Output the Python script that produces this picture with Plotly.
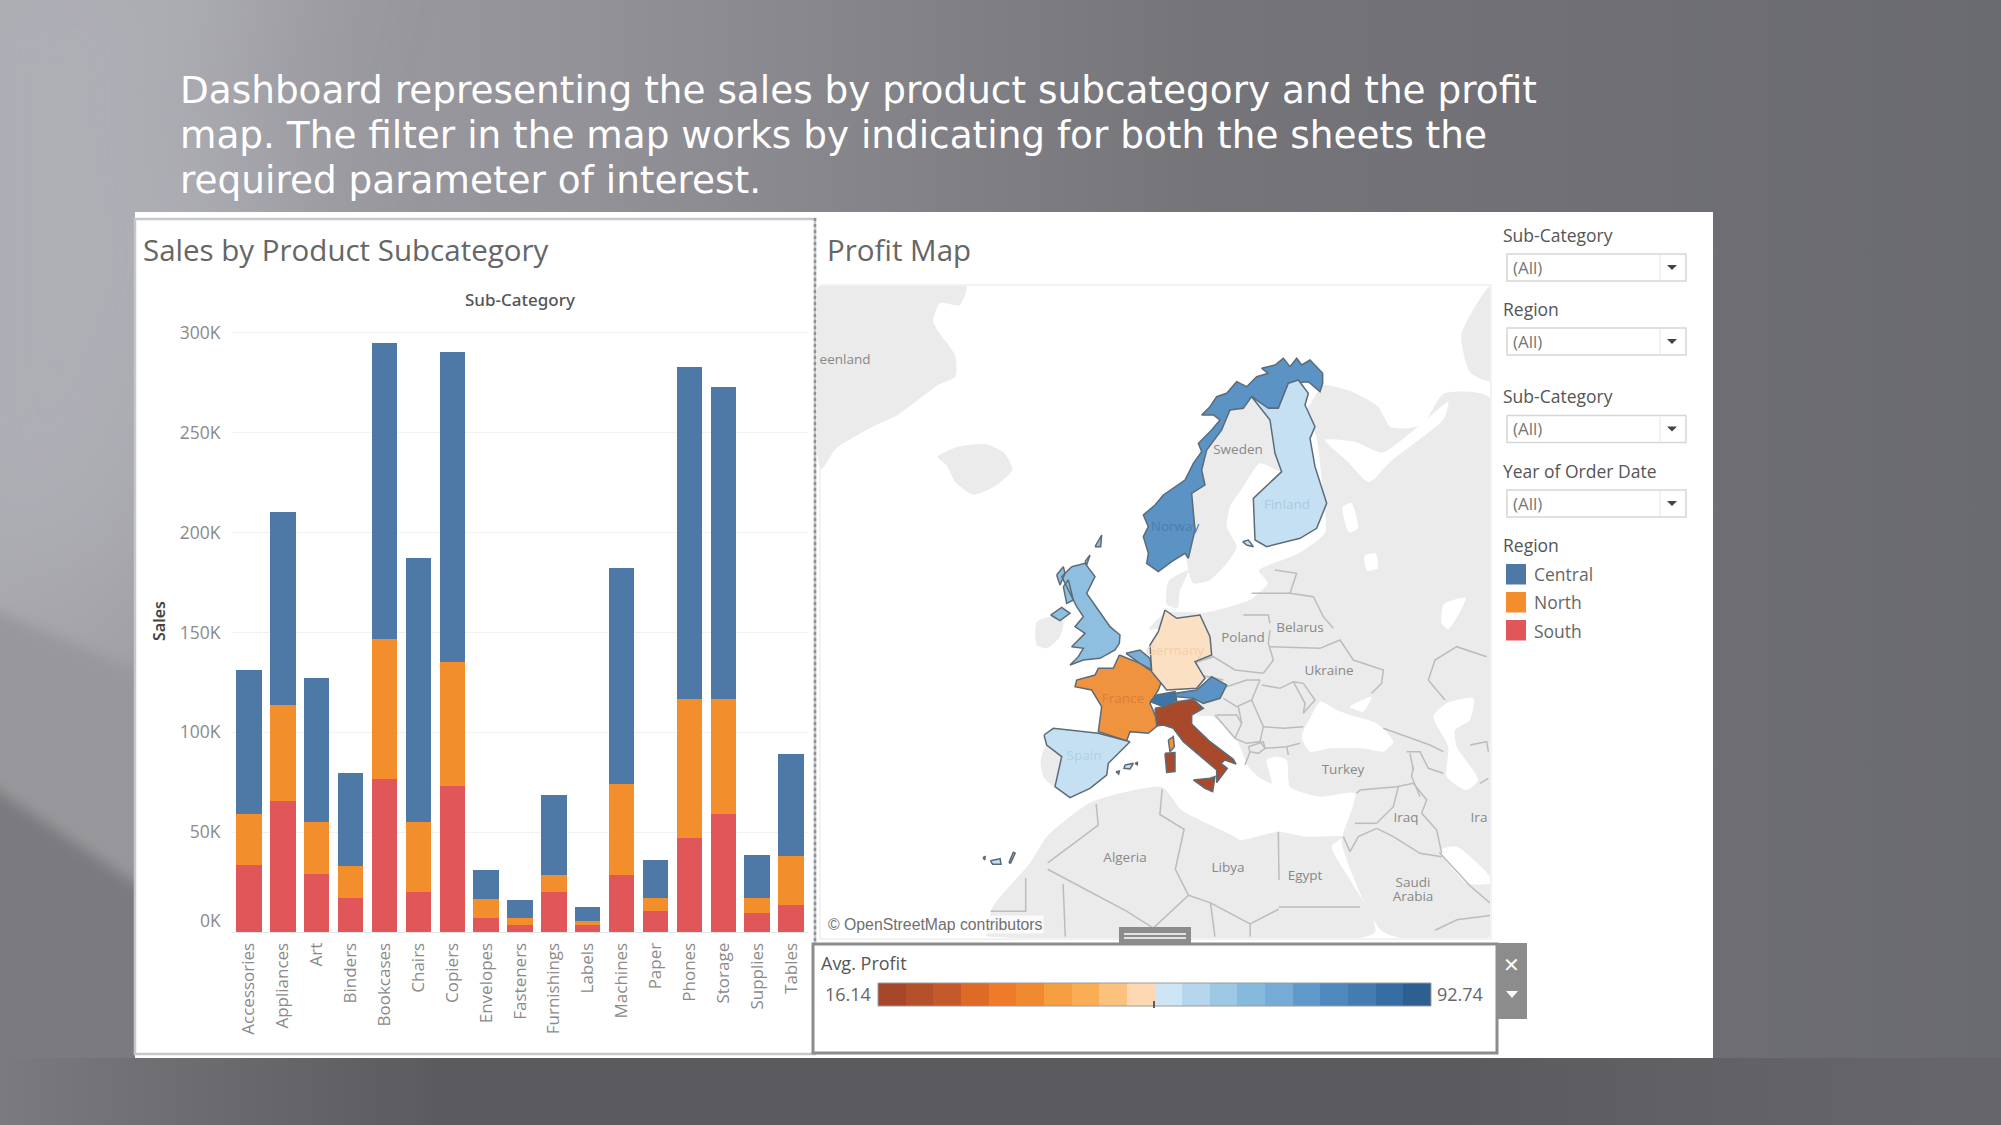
import base64
import plotly.graph_objects as go

W, H = 2001, 1125

# ---------- bar data ----------
categories = ["Accessories","Appliances","Art","Binders","Bookcases","Chairs","Copiers","Envelopes",
              "Fasteners","Furnishings","Labels","Machines","Paper","Phones","Storage","Supplies","Tables"]
south   = [33800,65400,29100,17000,76600,20000,73000,6900,3300,20000,3300,28600,10700,47000,59300,9300,13500]
north   = [25500,48100,25800,16000,70100,34900,62200,9600,3600,8600,2200,45600,6300,69500,57200,7700,24400]
central = [72000,96700,72300,46400,148100,132500,155200,14500,9300,39800,7100,108200,19300,166700,156500,21500,51400]
y_ticks = [0,50000,100000,150000,200000,250000,300000]
y_tick_text = ["","50K","100K","150K","200K","250K","300K"]
region_names = ["Central","North","South"]
region_colors = ["#4e79a7","#f28e2b","#e15759"]

ramp_colors = ["#A6462A","#B4502B","#C45A2B","#DD6B26","#EE7A2A","#F0892F","#F59E42","#F9AD54","#FBC27E","#FDD8B2",
               "#CDE5F5","#B5D6EC","#9CC8E4","#85BADC","#75ABD5","#5F9ACB","#4E88BC","#447CB0","#366EA3","#2E5F91"]
ramp_min, ramp_max = "16.14", "92.74"

# ---------- map geometry: local grids, converted to map units below ----------
def A(p): return [(810+x/2.272, 280+y/2.376) for x, y in p]   # wide grid
def B(p): return [(1030+x/3, 340+y/3) for x, y in p]          # north grid
def C(p): return [(1020+x/3, 600+y/3) for x, y in p]          # south grid
def D(p): return [(1180+x/3, 620+y/3) for x, y in p]          # east grid

land = [
 A([(20,15),(355,15),(340,60),(295,55),(280,100),(330,180),(330,230),(290,250),(200,320),(140,350),(60,400),(25,450)]),
 A([(290,420),(340,395),(400,390),(440,410),(460,450),(420,490),(370,510),(330,480),(310,440)]),
 C([(50,65),(95,50),(130,60),(120,110),(80,145),(50,135)]),
 B([(530,330),(575,270),(600,210),(640,205),(665,170),(720,240),(735,340),(755,395),(690,370),(640,440),(600,500),(590,560),(620,620),(590,670),(540,720),(490,730),(470,655),(495,570),(485,460),(525,435),(515,390)]),
 A([(810,770),(815,715),(860,690),(840,740),(835,780)]),
 A([(1480,130),(1545,15),(1545,240),(1500,220)]),
 A([(1165,250),(1230,265),(1290,300),(1320,350),(1390,345),(1440,270),(1545,280),(1545,1560)])
 + D([(610,936),(485,670),(490,640),(525,520),(420,530),(330,500),(320,420),(290,410),(260,420),(275,490),(235,470),(205,440),(170,360),(100,290),(50,285)])
 + A([(905,960),(800,830),(770,830),(810,790),(900,790),(1000,760),(1040,720),(1020,690),(1110,650),(1170,600),(1165,500),(1150,370),(1125,315),(1140,290)]),
 A([(400,1560),(415,1490),(500,1385),(540,1320),(640,1240),(800,1205),(845,1260),(960,1320)])
 + D([(180,660),(295,635),(380,650),(490,650),(455,680),(585,936)]) + A([(400,1560)]),
 C([(62,480),(80,435),(125,470),(105,560),(70,530)]),
]
water = [
 D([(365,350),(390,295),(420,245),(470,270),(510,285),(590,310),(640,365),(610,395),(550,385),(450,385),(390,395)]),
 D([(510,260),(560,235),(575,230),(550,275)]),
 D([(760,290),(800,250),(880,235),(870,300),(825,330),(830,380),(895,480),(860,510),(800,470),(805,380)]),
 D([(780,690),(830,680),(930,770),(930,790),(860,790)]),
 A([(1170,380),(1240,385),(1300,410),(1380,350),(1450,290),(1440,330),(1320,430),(1270,480),(1220,430)]),
 A([(1210,540),(1230,530),(1245,590),(1225,600)]),
 A([(1260,655),(1285,650),(1290,685),(1265,690)]),
 A([(1440,770),(1490,755),(1450,830),(1435,815)]),
]
borders = [
 B([(665,760),(780,760),(800,700),(735,690)]),
 B([(640,825),(715,825),(720,850)]),
 B([(780,760),(850,770),(880,830),(910,865)]),
 D([(270,80),(420,85),(480,60),(520,120),(610,150),(605,190),(575,220)]),
 D([(270,30),(265,70),(280,120),(250,160)]),
 D([(40,130),(100,110),(165,150),(250,160)]),
 D([(40,130),(60,165),(130,180)]),
 D([(140,200),(200,180),(240,180)]),
 D([(240,180),(215,240)]),
 D([(130,235),(170,260),(215,240)]),
 D([(245,195),(300,205),(340,185),(370,190),(405,240),(370,280)]),
 D([(340,185),(375,250),(370,280)]),
 D([(250,320),(310,325),(370,320)]),
 D([(215,240),(250,320),(240,365)]),
 D([(110,285),(170,285),(185,310),(165,355),(105,285)]),
 D([(175,260),(185,310)]),
 D([(165,355),(200,370),(240,365),(255,385)]),
 D([(205,380),(250,365),(255,385),(235,400),(210,395),(205,380)]),
 D([(255,385),(320,380),(360,370)]),
 D([(320,380),(325,405)]),
 D([(210,395),(195,435)]),
 D([(610,325),(680,350),(750,375),(790,395)]),
 D([(680,395),(720,395),(745,445),(790,460)]),
 D([(690,400),(700,450)]),
 D([(530,520),(540,510),(650,500),(700,490)]),
 D([(700,440),(695,470),(720,530)]),
 D([(700,490),(740,540),(725,580),(770,630),(785,700)]),
 D([(590,610),(640,560),(655,500)]),
 D([(590,625),(640,650),(720,700),(785,710)]),
 D([(590,625),(535,650),(510,695),(490,650)]),
 D([(525,610),(590,610)]),
 D([(745,180),(765,120),(830,80),(920,110)]),
 D([(745,180),(795,240)]),
 D([(870,375),(920,365),(925,395)]),
 D([(900,490),(925,475)]),
 D([(295,635),(297,780)]),
] + [A(p) for p in [
 [(650,1245),(655,1295),(540,1385)],
 [(800,1210),(795,1270),(850,1305),(830,1400),(860,1462)],
 [(860,1462),(910,1480),(1000,1530),(1065,1495)],
 [(1065,1490),(1250,1490)],
 [(540,1400),(720,1500),(780,1540),(860,1462)],
 [(490,1420),(490,1500),(410,1500)],
 [(575,1435),(580,1560)],
 [(910,1480),(920,1560)],
 [(1000,1530),(1000,1560)],
 [(1430,1360),(1500,1440),(1545,1480)],
 [(1420,1545),(1470,1520),(1545,1510)],
]]
countries = [
 ("#5B93C4",[B([(878,100),(840,60),(815,75),(800,55),(780,80),(760,55),(735,75),(695,85),(715,100),(680,110),(650,140),(620,125),(590,160),(560,170),(540,200),(515,225),(550,225),(570,240),(545,270),(505,310),(515,335),(490,370),(465,420),(400,465),(375,495),(340,525),(355,560),(340,590),(355,640),(350,670),(385,695),(425,665),(465,640),(475,655),(495,570),(485,460),(525,435),(515,390),(530,330),(575,270),(600,210),(640,205),(665,170),(710,205),(745,205),(775,130),(835,125),(870,155),(878,130)])]),
 ("#C5E0F2",[B([(665,170),(715,205),(745,205),(775,130),(805,120),(835,160),(825,195),(855,260),(840,295),(855,380),(890,490),(860,565),(810,595),(710,620),(675,600),(670,475),(755,395),(735,340),(720,240)]),
             B([(638,605),(655,600),(670,620),(650,615)])]),
 ("#8FBFE0",[C([(155,-100),(195,-110),(225,-70),(200,-20),(235,30),(270,80),(300,105),(298,130),(285,150),(240,175),(190,180),(150,195),(175,170),(190,145),(155,140),(195,100),(165,80),(190,50),(170,20),(150,-20),(135,-50),(125,-70)]),
             C([(92,45),(125,22),(150,40),(120,62)]),
             B([(195,620),(215,585),(212,620)]),
             B([(165,665),(180,645),(170,675)]),
             B([(80,705),(100,680),(105,700),(90,735)]),
             B([(100,740),(115,720),(130,780),(110,790)])]),
 ("#F0933F",[C([(298,165),(360,190),(390,210),(430,230),(415,270),(390,310),(405,345),(415,375),(385,400),(330,395),(320,422),(235,395),(245,320),(215,270),(165,260),(170,240),(225,225),(235,205),(280,205)]),
             C([(445,420),(460,410),(463,440),(450,455)])]),
 ("#7AAED6",[C([(318,160),(360,150),(390,175),(395,210),(360,190)])]),
 ("#FBE0C3",[C([(435,30),(470,55),(540,45),(570,110),(575,165),(525,185),(555,235),(530,265),(440,270),(395,215),(390,135),(415,95)])]),
 ("#5B93C6",[C([(465,280),(530,270),(575,230),(620,255),(600,295),(550,310),(520,295),(465,290)])]),
 ("#3D75A8",[C([(390,305),(410,285),(465,275),(470,300),(430,320)])]),
 ("#A8492B",[C([(405,325),(430,320),(470,305),(520,298),(550,325),(515,345),(515,372),(570,425),(640,478),(648,492),(615,480),(603,490),(622,505),(590,548),(590,510),(555,480),(490,425),(460,385),(430,375),(410,378)]),
             C([(520,540),(570,535),(585,530),(578,575),(555,565)]),
             C([(435,460),(465,458),(465,515),(440,517)])]),
 ("#C5E0F2",[C([(72,405),(100,385),(235,400),(330,425),(265,490),(260,525),(210,565),(150,593),(105,560),(125,470),(80,435)]),
             C([(315,495),(340,490),(330,507),(312,505)]),
             C([(288,515),(298,513),(296,522)]),
             C([(345,490),(352,487),(352,494)]),
             A([(393,1372),(398,1370),(397,1378)]),
             A([(410,1380),(432,1375),(434,1388),(415,1388)]),
             A([(452,1385),(462,1360),(466,1362),(456,1385)])]),
]
map_labels  = ["eenland","Sweden","Belarus","Poland","Ukraine","Turkey","Iraq","Ira","Algeria","Libya","Egypt","Saudi","Arabia","Finland","Norway","Germany","France","Spain"]
map_label_x = [845,1238,1300,1243,1329,1343,1406,1479,1125,1228,1305,1413,1413,1287,1175,1175,1123,1084]
map_label_y = [361,451,629,639,672,771,819,819,859,869,877,884,898,506,528,652,700,757]
map_label_c = ["#888"]*13 + ["#a9cbe0","#4a80ad","#f3cfa8","#d9803a","#aed0e6"]

def px(x): return x / W
def py(y): return 1 - y / H
def xp(x0, x1): return [px(x0), px(x1)]
def yp(y0, y1): return [py(y1), py(y0)]
def join(polys, close=True):
    xs, ys = [], []
    for p in polys:
        q = p + [p[0]] if close else p
        xs += [a for a, _ in q] + [None]
        ys += [b for _, b in q] + [None]
    return xs, ys

# ---------- slide background ----------
svg = f'''<svg xmlns="http://www.w3.org/2000/svg" width="{W}" height="{H}" viewBox="0 0 {W} {H}">
<defs>
<linearGradient id="g" x1="0" y1="0" x2="1" y2="0">
<stop offset="0" stop-color="#a4a4aa"/><stop offset="0.3" stop-color="#919197"/>
<stop offset="0.6" stop-color="#747479"/><stop offset="1" stop-color="#6a6a71"/></linearGradient>
<linearGradient id="k" x1="0" y1="0" x2="1" y2="0">
<stop offset="0" stop-color="#5a5a5e" stop-opacity="0"/><stop offset="0.22" stop-color="#5a5a5e" stop-opacity="1"/>
<stop offset="0.72" stop-color="#5a5a5e" stop-opacity="1"/><stop offset="1" stop-color="#5a5a5e" stop-opacity="0.3"/></linearGradient>
<filter id="b" x="-50%" y="-50%" width="200%" height="200%"><feGaussianBlur stdDeviation="70"/></filter>
<filter id="s" x="-20%" y="-20%" width="140%" height="140%"><feGaussianBlur stdDeviation="7"/></filter></defs>
<rect width="{W}" height="{H}" fill="url(#g)"/>
<polygon points="-100,-100 300,-100 200,120 280,230 135,580 -100,600" fill="#aeaeb5" filter="url(#b)"/>
<polygon points="-100,570 400,780 400,1060 -100,750" fill="#98989c" filter="url(#s)"/>
<polygon points="-100,725 400,1060 400,1200 -100,1200" fill="#7a7a7f" filter="url(#s)"/>
<rect x="0" y="1058" width="{W}" height="70" fill="url(#k)"/>
</svg>'''
bg_uri = "data:image/svg+xml;base64," + base64.b64encode(svg.encode()).decode()

fig = go.Figure()

for name, vals, col in zip(region_names[::-1], [south, north, central], region_colors[::-1]):
    fig.add_trace(go.Bar(x=categories, y=vals, name=name, marker=dict(color=col, line=dict(width=0)),
                         xaxis="x", yaxis="y", showlegend=False))

def poly(polys, color, line=None, width=0, smooth=False):
    xs, ys = join(polys)
    ln = dict(color=line or color, width=width)
    if smooth:
        ln.update(shape="spline", smoothing=0.6)
    fig.add_trace(go.Scatter(x=xs, y=ys, mode="lines", fill="toself", fillcolor=color, line=ln,
                             xaxis="x2", yaxis="y2", showlegend=False, hoverinfo="skip"))
poly(land, "#EBEBEC", smooth=True)
poly(water, "#FFFFFF", smooth=True)
bx, by = join(borders, close=False)
fig.add_trace(go.Scatter(x=bx, y=by, mode="lines", line=dict(color="#bbbcbe", width=1.5),
                         xaxis="x2", yaxis="y2", showlegend=False, hoverinfo="skip"))
for c, polys in countries:
    poly(polys, c, "#5c6b78", 1.5)
fig.add_trace(go.Scatter(x=map_label_x, y=map_label_y, text=map_labels, mode="text",
                         textfont=dict(family="Open Sans", size=13.5, color=map_label_c),
                         xaxis="x2", yaxis="y2", showlegend=False, hoverinfo="skip"))

fig.add_trace(go.Bar(x=list(range(len(ramp_colors))), y=[1]*len(ramp_colors), width=1,
                     marker=dict(color=ramp_colors, line=dict(width=0)),
                     xaxis="x3", yaxis="y3", showlegend=False, hoverinfo="skip"))

shapes = []
def rect(x0, y0, x1, y1, fill="rgba(0,0,0,0)", line="rgba(0,0,0,0)", w=0, layer="below"):
    shapes.append(dict(type="rect", xref="paper", yref="paper", x0=px(x0), x1=px(x1), y0=py(y0), y1=py(y1),
                       fillcolor=fill, line=dict(color=line, width=w), layer=layer))
def hv(x0, y0, x1, y1, color, w, layer="below", dash=None):
    l = dict(color=color, width=w)
    if dash: l["dash"] = dash
    shapes.append(dict(type="line", xref="paper", yref="paper", x0=px(x0), x1=px(x1), y0=py(y0), y1=py(y1), line=l, layer=layer))

rect(135, 212, 1713, 1058, fill="#FFFFFF")
rect(135, 219, 815, 1054, line="#c4c7cb", w=2.5)
hv(815, 218, 815, 1054, "#8d9296", 2.5, dash="dot")
rect(820, 285, 1491, 939, line="#e6e6e6", w=1)

rect(813, 944, 1497, 1053, fill="#FFFFFF", line="#8c8c8c", w=3)
rect(1497, 943, 1527, 1019, fill="#8c8c8c", layer="above")
rect(1119, 927, 1191, 945, fill="#8c8c8c", layer="above")
for yy in (934, 938):
    hv(1124, yy, 1186, yy, "#ffffff", 1.5, layer="above")
rect(878, 983, 1431, 1006, line="#9b9b9b", w=1, layer="above")
hv(1154, 1001, 1154, 1008, "#333", 1.5, layer="above")

box_tops = [254, 328, 415.5, 490]
for t in box_tops:
    rect(1507, t, 1686, t+27, fill="#FFFFFF", line="#d6d6d6", w=1.5)
    hv(1660, t+1, 1660, t+26, "#eeeeee", 1.5)
    shapes.append(dict(type="path", xref="paper", yref="paper",
                       path=f"M {px(1667)} {py(t+11)} L {px(1677)} {py(t+11)} L {px(1672)} {py(t+16)} Z",
                       fillcolor="#444", line=dict(width=0), layer="above"))
for t, col in zip([564, 592, 620], region_colors):
    rect(1506, t, 1526, t+20.5, fill=col)
shapes.append(dict(type="path", xref="paper", yref="paper",
                   path=f"M {px(1506)} {py(991)} L {px(1518)} {py(991)} L {px(1512)} {py(998)} Z",
                   fillcolor="#ffffff", line=dict(width=0), layer="above"))

anns = []
def text(x, y, s, size, color, family="Open Sans", anchor="left", angle=0, bg=None, weight=None):
    f = dict(family=family, size=size, color=color)
    if weight: f["weight"] = weight
    d = dict(xref="paper", yref="paper", x=px(x), y=py(y), text=s, showarrow=False, xanchor=anchor, yanchor="middle",
             font=f, textangle=angle, borderpad=0)
    if bg: d["bgcolor"] = bg
    anns.append(d)

title_lines = ["Dashboard representing the sales by product subcategory and the profit",
               "map. The filter in the map works by indicating for both the sheets the",
               "required parameter of interest."]
for yy, s in zip([90, 135, 180], title_lines):
    text(179, yy, s, 37.4, "#FFFFFF", family="DejaVu Sans")

text(142, 249, "Sales by Product Subcategory", 29.5, "#666666")
text(826, 249, "Profit Map", 29.5, "#666666")
text(520, 300, "Sub-Category", 17, "#555555", anchor="center", family="Noto Sans", weight=500)
text(159, 621, "Sales", 16, "#444444", anchor="center", angle=-90, family="Noto Sans", weight=600)
text(222, 920, "0K", 17.5, "#8a8a8a", anchor="right")

for yy, s in zip([235, 309.5, 396, 470.5, 545], ["Sub-Category","Region","Sub-Category","Year of Order Date","Region"]):
    text(1502, yy, s, 17.5, "#555555")
for t in box_tops:
    text(1512, t+13.5, "(All)", 17, "#777777")
for yy, s in zip([574, 602, 631], region_names):
    text(1533, yy, s, 17.5, "#666666")

text(827, 924, "© OpenStreetMap contributors", 15.8, "#6f6f6f", family="Liberation Sans", bg="rgba(255,255,255,0.8)")
text(820, 963, "Avg. Profit", 18, "#555555")
text(872, 994, ramp_min, 18, "#666666", anchor="right")
text(1436, 994, ramp_max, 18, "#666666")
text(1511, 965, "✕", 20, "#ffffff", anchor="center", family="DejaVu Sans")

hidden = dict(visible=False, fixedrange=True, automargin=False)
fig.update_layout(
    template="none",
    autosize=False, width=W, height=H, margin=dict(l=0, r=0, t=0, b=0, pad=0),
    paper_bgcolor="#606066", plot_bgcolor="rgba(0,0,0,0)",
    barmode="stack", bargap=0.25, hovermode=False, showlegend=False,
    images=[dict(source=bg_uri, xref="paper", yref="paper", x=0, y=1, sizex=1, sizey=1,
                 sizing="stretch", xanchor="left", yanchor="top", layer="below")],
    shapes=shapes, annotations=anns,
    xaxis=dict(domain=xp(232, 808), anchor="y", type="category", categoryorder="array", categoryarray=categories,
               range=[-0.5, 16.5], tickangle=-90, ticks="outside", ticklen=3, tickcolor="rgba(0,0,0,0)", showgrid=False,
               zeroline=False, showline=False, automargin=False, tickfont=dict(family="Open Sans", size=17, color="#8a8a8a")),
    yaxis=dict(domain=yp(322, 932), anchor="x", range=[0, 305500], tickvals=y_ticks, ticktext=y_tick_text,
               ticks="outside", ticklen=7, tickcolor="rgba(0,0,0,0)", showgrid=True, gridcolor="#f1f1f1",
               zeroline=True, zerolinecolor="#e4e4e4", showline=False, automargin=False,
               tickfont=dict(family="Open Sans", size=17.5, color="#8a8a8a")),
    xaxis2=dict(domain=xp(816.6, 1490), anchor="y2", range=[816.6, 1490], **hidden),
    yaxis2=dict(domain=yp(286, 938), anchor="x2", range=[938, 286], **hidden),
    xaxis3=dict(domain=xp(878, 1431), anchor="y3", range=[-0.5, 19.5], **hidden),
    yaxis3=dict(domain=yp(983, 1006), anchor="x3", range=[0, 1], **hidden),
)

fig.write_html("out.html", post_script="document.body.style.margin='0';document.body.style.overflow='hidden';",
               config=dict(displayModeBar=False, responsive=False))
